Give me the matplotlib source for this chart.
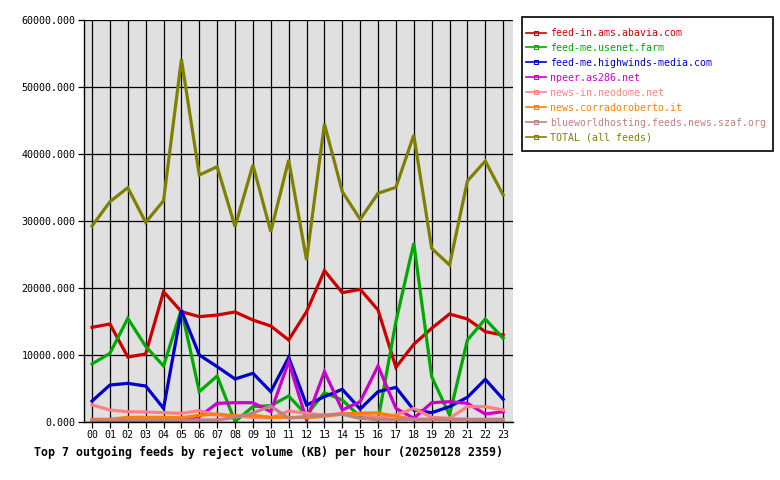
import numpy as np
import matplotlib
matplotlib.use("Agg")
import matplotlib.pyplot as plt
from matplotlib.lines import Line2D
from matplotlib.patches import Rectangle

hours = ["%02d" % h for h in range(24)]

# KB rejected per hour
abavia = [14130, 14630, 9700, 10150, 19450, 16470, 15720, 15970, 16420, 15220, 14330, 12240,
          16470, 22590, 19300, 19800, 16720, 8160, 11600, 13980, 16120, 15370, 13480, 12980]
usenet_farm = [8660, 10250, 15470, 11300, 8360, 16820, 4530, 6870, 50, 2290, 2440, 3880,
               1040, 4380, 3280, 790, 300, 15000, 26700, 6770, 1040, 12240, 15370, 12490]
highwinds = [3130, 5520, 5770, 5370, 2040, 16650, 10000, 8260, 6420, 7270, 4530, 9650,
             2540, 3780, 4880, 1940, 4530, 5170, 1790, 1390, 2290, 3690, 6370, 3390]
npeer = [0, 0, 0, 0, 0, 300, 800, 2790, 2880, 2880, 1540, 9000,
         300, 7510, 1790, 3030, 8360, 2040, 550, 2880, 3030, 2790, 1190, 1540]
neodome = [2540, 1790, 1540, 1490, 1390, 1290, 1690, 1040, 900, 700, 600, 1640,
           1300, 1000, 1300, 1100, 700, 1040, 2040, 700, 550, 2290, 2290, 1790]
corradoroberto = [400, 400, 700, 700, 700, 640, 1000, 1190, 900, 1000, 700, 700,
                  650, 850, 1190, 1340, 1340, 850, 400, 400, 400, 400, 0, 0]
szaf = [300, 300, 300, 300, 300, 300, 300, 300, 700, 1340, 2390, 550,
        850, 1040, 1150, 550, 400, 400, 400, 400, 400, 400, 400, 400]
total = [29250, 32880, 34970, 29800, 33030, 54130, 36860, 38110, 29150, 38360, 28410, 39100,
         24180, 44480, 34380, 30250, 34130, 35030, 42830, 25920, 23430, 35970, 38950, 33880]

names = ["feed-in.ams.abavia.com", "feed-me.usenet.farm", "feed-me.highwinds-media.com",
         "npeer.as286.net", "news-in.neodome.net", "news.corradoroberto.it",
         "blueworldhosting.feeds.news.szaf.org", "TOTAL (all feeds)"]
series = [abavia, usenet_farm, highwinds, npeer, neodome, corradoroberto, szaf, total]
colors = ["#cc0000", "#00aa00", "#0000cc", "#cc00cc", "#ff8080", "#ff8000", "#c08080", "#808000"]

plt.rcParams['font.family'] = 'DejaVu Sans Mono'

fig = plt.figure(figsize=(7.8, 4.8), dpi=100)
ax = fig.add_axes([84/780, 58/480, 429/780, 402/480])
ax.set_facecolor("#e0e0e0")

x = np.arange(24)
for vals, c in zip(series, colors):
    ax.plot(x, vals, color=c, lw=2.3, solid_joinstyle='miter')

ax.set_xlim(-0.45, 23.55)
ax.set_ylim(0, 60000)
ax.set_xticks(x)
ax.set_xticklabels(hours)
ax.set_yticks(np.arange(0, 60001, 10000))
ax.set_yticklabels(["%.3f" % v for v in np.arange(0, 60001, 10000)])
ax.grid(True, color="black", lw=0.9)
ax.set_axisbelow(True)
ax.tick_params(axis='both', labelsize=7.2, length=4, width=0.9, pad=2, direction='out')
for s in ax.spines.values():
    s.set_linewidth(1.0)
ax.spines['top'].set_visible(False)
ax.spines['right'].set_visible(False)

# legend box drawn by hand, entries placed inside it
fig.patches.append(Rectangle((522/780, 1 - 151/480), 251/780, 134/480, transform=fig.transFigure,
                             facecolor="white", edgecolor="black", lw=1.2, figure=fig))
handles = [Line2D([0], [0], color=c, lw=1.2, marker='s', markersize=2.5,
                  markerfacecolor='none', markeredgewidth=0.8) for c in colors]
leg = fig.legend(handles, names, loc='upper left', bbox_to_anchor=(526/780, 1 - 28/480),
                 fontsize=7.15, frameon=False, handlelength=2.0,
                 handletextpad=0.4, labelspacing=0.5, borderpad=0, borderaxespad=0)
for t, c in zip(leg.get_texts(), colors):
    t.set_color(c)

fig.text(34/780, 1 - 452/480, "Top 7 outgoing feeds by reject volume (KB) per hour (20250128 2359)",
         fontsize=8.4, fontweight='bold', ha='left', va='center')

fig.savefig("out.png", dpi=100)
